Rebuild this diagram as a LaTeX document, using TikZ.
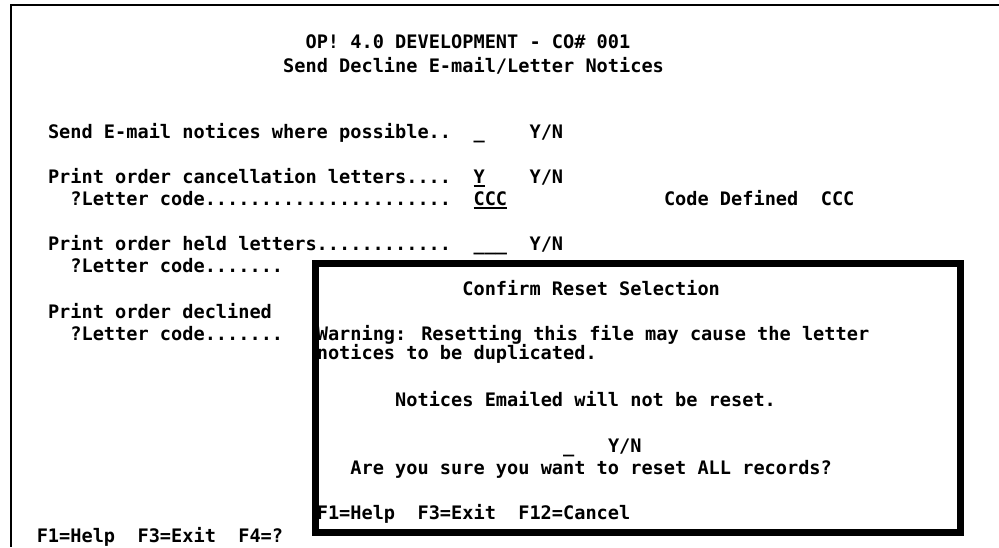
\documentclass[tikz,border=0pt]{standalone}
\usepackage{fontspec}
\newfontfamily\scrfamily{DejaVu Sans Mono}
\tikzset{
  txt/.style={anchor=base west, inner sep=0pt, outer sep=0pt,
    font=\scrfamily\bfseries\fontsize{18.6}{20}\selectfont},
  uline/.style={line width=1.5pt},
  screenframe/.style={line width=2pt},
  popupframe/.style={line width=7pt},
}
\newcommand\scrtxt[4]{\node[txt] (#1) at ({36.8+#2*11.2},#3) {#4};}
\begin{document}
\begin{tikzpicture}[x=1pt,y=-1pt]
\useasboundingbox (0,0) rectangle (999,547);
\fill[white] (0,0) rectangle (999,547);
% screen frame
\coordinate (ftr) at (999,5);
\coordinate (ftl) at (11,5);
\coordinate (fbl) at (11,547);
\draw[screenframe] (ftr) -- (ftl) -- (fbl);
% main screen text
\scrtxt{t1}{24}{48}{OP! 4.0 DEVELOPMENT - CO\# 001}
\scrtxt{t2}{22}{72}{Send Decline E-mail/Letter Notices}
\scrtxt{l1}{1}{138}{Send E-mail notices where possible..}
\scrtxt{l1f}{39}{138}{\_}
\scrtxt{l1yn}{44}{138}{Y/N}
\scrtxt{l2}{1}{183}{Print order cancellation letters....}
\scrtxt{l2f}{39}{183}{Y}
\scrtxt{l2yn}{44}{183}{Y/N}
\scrtxt{l3}{3}{205}{?Letter code......................}
\scrtxt{l3f}{39}{205}{CCC}
\scrtxt{l3d}{56}{205}{Code Defined}
\scrtxt{l3c}{70}{205}{CCC}
\scrtxt{l4}{1}{250}{Print order held letters............}
\scrtxt{l4f}{39}{250}{\_\_\_}
\scrtxt{l4yn}{44}{250}{Y/N}
\scrtxt{l5}{3}{272}{?Letter code.......}
\scrtxt{l6}{1}{318}{Print order declined}
\scrtxt{l7}{3}{340}{?Letter code.......}
\scrtxt{fk}{0}{542}{F1=Help~~F3=Exit~~F4=?}
\draw[uline] ([yshift=-3pt]l2f.base west) -- ([yshift=-3pt]l2f.base east);
\draw[uline] ([yshift=-3pt]l3f.base west) -- ([yshift=-3pt]l3f.base east);
% popup
\coordinate (pa) at (315,263);
\coordinate (pb) at (960,532.5);
\fill[white] (pa) rectangle (pb);
\scrtxt{p1}{38}{295}{Confirm Reset Selection}
\scrtxt{p2}{25}{340}{Warning: Resetting this file may cause the letter}
\scrtxt{p3}{25}{359}{notices to be duplicated.}
\scrtxt{p4}{32}{406}{Notices Emailed will not be reset.}
\scrtxt{p5f}{47}{452}{\_}
\scrtxt{p5yn}{51}{452}{Y/N}
\scrtxt{p6}{28}{474}{Are you sure you want to reset ALL records?}
\scrtxt{p7}{25}{519}{F1=Help~~F3=Exit~~F12=Cancel}
\draw[popupframe] (pa) rectangle (pb);
\end{tikzpicture}
\end{document}
